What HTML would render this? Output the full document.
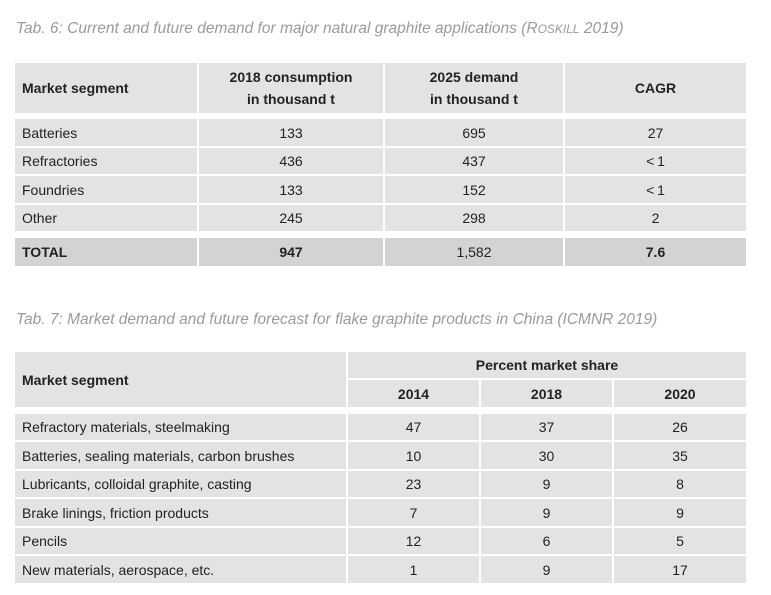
<!DOCTYPE html>
<html><head><meta charset="utf-8">
<style>
body{margin:0;width:771px;height:595px;background:#fff;position:relative;overflow:hidden;font-family:"Liberation Sans",Arial,sans-serif;color:#222}
.t{position:absolute;left:16px;font-size:15.5px;font-style:italic;color:#9a9a9a;white-space:nowrap}
.c{position:absolute;background:#e3e3e3;font-size:14px;display:flex;align-items:center;justify-content:center;text-align:center;line-height:22px;box-sizing:border-box}
.l{justify-content:flex-start;padding-left:7px}
.b{font-weight:bold}
.tot{background:#d3d3d3}
</style></head><body>
<div class="t" style="top:20px">Tab. 6: Current and future demand for major natural graphite applications (R<span style="font-size:12px">OSKILL</span> 2019)</div>
<div class="t" style="top:311px">Tab. 7: Market demand and future forecast for flake graphite products in China (ICMNR 2019)</div>
<div id="root"></div>
<script>
const t6Segments=["Batteries","Refractories","Foundries","Other"];
const t6Consumption=["133","436","133","245"];
const t6Demand=["695","437","152","298"];
const t6Cagr=["27","<1","<1","2"];
const t7Segments=["Refractory materials, steelmaking","Batteries, sealing materials, carbon brushes","Lubricants, colloidal graphite, casting","Brake linings, friction products","Pencils","New materials, aerospace, etc."];
const t7Y2014=["47","10","23","7","12","1"];
const t7Y2018=["37","30","9","9","6","9"];
const t7Y2020=["26","35","8","9","5","17"];
const root=document.getElementById('root');
function cell(x1,y1,x2,y2,html,cls,name){
  const d=document.createElement('div');
  d.className='c '+(cls||'');
  d.style.left=(x1+1)+'px';d.style.top=(y1+1)+'px';
  d.style.width=(x2-x1-2)+'px';d.style.height=(y2-y1-2)+'px';
  d.innerHTML=html;
  
  
  root.appendChild(d);
}
// Table 6
const c6=[14,198,384,564,747];
cell(c6[0],62,c6[1],114,'Market segment','l b','t6-header-segment');
cell(c6[1],62,c6[2],114,'2018 consumption<br>in thousand t','b','t6-header-2018');
cell(c6[2],62,c6[3],114,'2025 demand<br>in thousand t','b','t6-header-2025');
cell(c6[3],62,c6[4],114,'CAGR','b','t6-header-cagr');
const r6=[118,147,175,204,232];
for(let i=0;i<t6Segments.length;i++){
  cell(c6[0],r6[i],c6[1],r6[i+1],t6Segments[i],'l','t6-segment');
  cell(c6[1],r6[i],c6[2],r6[i+1],t6Consumption[i],'','t6-consumption');
  cell(c6[2],r6[i],c6[3],r6[i+1],t6Demand[i],'','t6-demand');
  cell(c6[3],r6[i],c6[4],r6[i+1],t6Cagr[i].replace('<','&lt;&thinsp;'),'','t6-cagr');
}
cell(c6[0],237,c6[1],267,'TOTAL','l b tot','t6-total-label');
cell(c6[1],237,c6[2],267,'947','b tot','t6-total-consumption');
cell(c6[2],237,c6[3],267,'1,582','tot','t6-total-demand');
cell(c6[3],237,c6[4],267,'7.6','b tot','t6-total-cagr');
// Table 7
const c7=[14,347,480,613,747];
cell(c7[0],351,c7[1],408,'Market segment','l b','t7-header-segment');
cell(c7[1],351,c7[4],379,'Percent market share','b','t7-header-percent');
cell(c7[1],379,c7[2],408,'2014','b','t7-header-2014');
cell(c7[2],379,c7[3],408,'2018','b','t7-header-2018');
cell(c7[3],379,c7[4],408,'2020','b','t7-header-2020');
const r7=[413,441,470,498,527,555,584];
for(let i=0;i<t7Segments.length;i++){
  cell(c7[0],r7[i],c7[1],r7[i+1],t7Segments[i],'l','t7-segment');
  cell(c7[1],r7[i],c7[2],r7[i+1],t7Y2014[i],'','t7-2014');
  cell(c7[2],r7[i],c7[3],r7[i+1],t7Y2018[i],'','t7-2018');
  cell(c7[3],r7[i],c7[4],r7[i+1],t7Y2020[i],'','t7-2020');
}
</script>
</body></html>
